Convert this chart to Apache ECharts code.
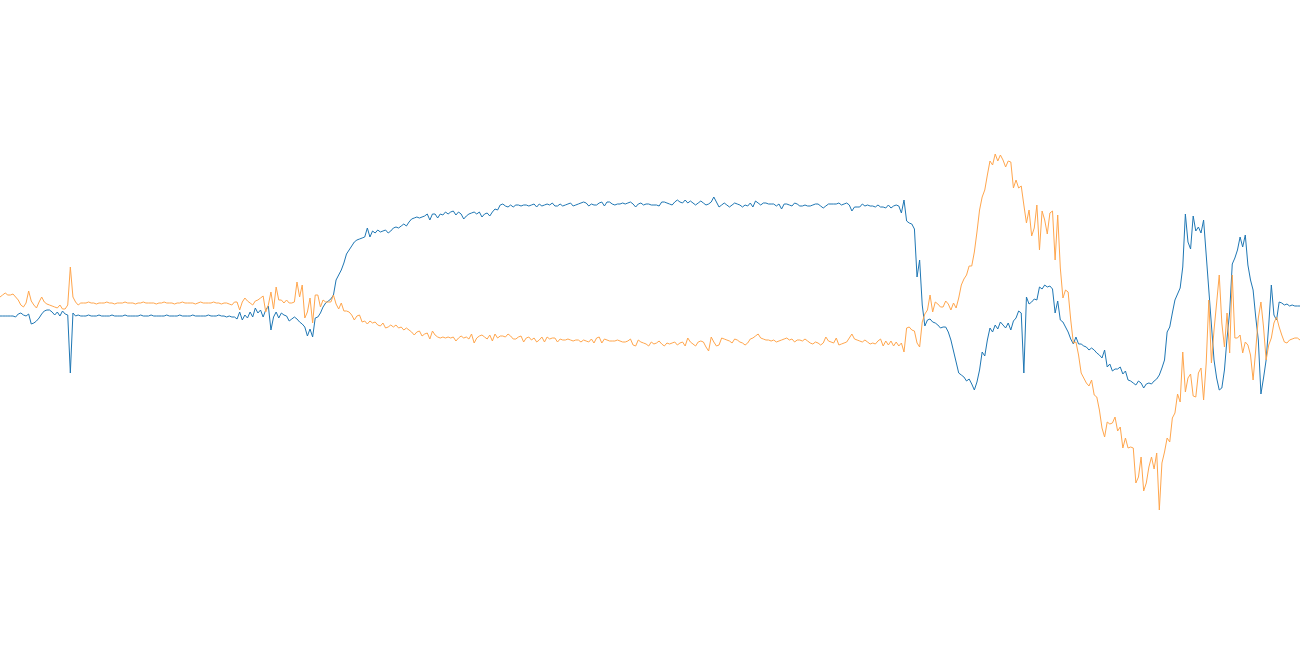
<!DOCTYPE html>
<html>
<head>
<meta charset="utf-8">
<style>html,body{margin:0;padding:0;background:#fff}#c{width:1300px;height:645px}</style>
<script src="https://cdn.jsdelivr.net/npm/echarts@6/dist/echarts.min.js"></script>
</head>
<body>
<div id="c"></div>
<script>
// Signal A (blue) values, 500 samples
const seriesA = [
4,4,4,4,4,4,3,6,7,5,4,6,-4,-3,-1,2,6,9,10,10,8,5,8,4,9,6,5,-53,7,4,5,4,
4,4,5,4,4,4,5,4,4,4, 4,5,4,4,4,4,5,4,4,4, 4,4,5,4,4,4,5,4,4,4, 4,4,5,4,4,4,4,5,4,4, 4,4,5,4,4,4,4,4,5,4, 4,4,5,4,4,3,
4,3,3,1,8,0,5,2,8,3, 12,7,10,3,10,14,-10,3,8,2, 7,5,4,-1,1,3,1,-2,-4,-7, -16,-9,-17,2,3,7,13,17,19,21,
25,40,45,50,57,66,70,74,78,80, 81,82,83,92,83,89,87,90,88,89, 90,87,89,92,93,92,94,96,94,98, 101,102,103,102,103,104,106,100,106,106, 102,106,105,108,106,108,109,105,108,106, 101,104,106,107,108,106,108,103,106,107, 104,108,111,110,115,
116,114,113,115,113,115,115,114,115,115, 114,115,116,113,116,114,115,116,115,117, 114,114,116,114,115,116,117,114,115,116, 117,118,117,114,116,115,115,117,118,114, 118,118,116,115,116,116,117,116,117,118, 116,113,116,117,115,116,116,115,115,115, 114,118,118,117,116,115,118,120,118,117, 120,117,119,117,115,117,
119,117,115,116,118,123,118,113,115,117, 115,113,115,117,116,115,113,115,114,117, 113,119,117,115,117,117,116,116,116,114, 116,111,116,116,115,114,117,116,114,114, 115,114,114,115,116,116,114,112,114,116, 116,116,116,117,115,116,117,115,109,113, 113,113,116,114,115,114,114,113,115,113, 113,112,115,112,114,115,114, 107,120,99,97,
96,91,43,60,15,-6,0,1,-2,-3, -5,-8,-7,-7,-12,-20,-31,-42,-53,-55, -57,-61,-59,-64,-70,-62,-50,-32,-36,-20, -8,-12,-5,-9,
-2,-5,-8,-3,-10,-1,2,9,7,-53, 23,16,18,21,20,33,31,35,33,34, 31,7,19,0,-2,-7,-12,-19,-24,-17, -24,-24,-26,-27,-30,-28,-30,-33,-35,
-38,-30,-47,-44,-51,-49,-49,-47,-54,-51, -60,-61,-63,-65,-61,-63,-68,-64,-63,-64, -61,-59,-55,-48,-40,-12,-7,7,20,26, 32,53,106,78,71,104,89,93,
87,100,65,30,-5,-40,-58,-70,-68,-50, -18,8,56,62,70,83,73,85,55,40, 30,3,-20,-74,-58,-40,-5,35,5,0, 18,17,15,16,14,15,14,14,14
];
// Signal B (orange) values, 500 samples
const seriesB = [
23,25,27,25,25,26,23,20,15,13,17,29,19,15,12,18,23,18,16,15,14,13,12,15,11,11,15,53,23,18,15,17,
17,17,18,17,17,16,17,17,17,18, 17,17,16,17,17,17,18,17,17,17, 16,17,17,18,17,17,17,17,16,17, 17,18,17,17,17,16,17,17,18,17, 17,17,17,16,17,18,17,17,17,17, 18,17,17,16,17,17,
16,15,18,18,10,18,22,19,17,15, 19,20,22,24,8,15,28,11,33,20, 20,17,20,17,17,18,38,23,35,2, 8,22,-3,25,25,13,20,18,18,18,
25,16,11,17,9,9,8,5,0,4, 5,-2,-1,-4,-1,-3,-2,-5,-6,-3, -8,-7,-5,-7,-5,-8,-7,-10,-8,-10, -12,-15,-12,-11,-16,-14,-13,-19,-11,-15, -17,-18,-17,-18,-17,-18,-17,-21,-18,-16, -18,-17,-19,-14,-23,-18,-16,-15,-17,-19, -15,-21,-14,-18,-16,
-16,-17,-14,-16,-19,-19,-17,-16,-22,-18, -17,-20,-18,-22,-20,-17,-22,-17,-19,-18, -18,-22,-19,-20,-20,-19,-20,-21,-20,-20, -22,-20,-21,-22,-19,-23,-18,-17,-23,-19, -20,-21,-21,-21,-20,-21,-22,-22,-21,-19, -25,-26,-20,-22,-23,-24,-26,-22,-24,-23, -21,-24,-26,-23,-24,-23,-22,-25,-23,-22, -26,-18,-22,-24,-26,-22,
-21,-22,-27,-31,-17,-22,-26,-25,-18,-19, -20,-21,-23,-19,-20,-22,-23,-25,-23,-19, -18,-16,-14,-18,-19,-20,-20,-21,-20,-22, -21,-20,-19,-18,-20,-19,-22,-20,-20,-21, -19,-21,-23,-24,-22,-23,-25,-23,-17,-21, -22,-23,-18,-25,-24,-23,-22,-18,-14,-19, -20,-21,-22,-20,-22,-24,-23,-24,-21,-19, -26,-21,-25,-21,-26,-22,-26, -23,-32,-8,-7,
-10,-11,-23,-27,-2,6,10,25,8,18, 16,13,13,19,16,10,17,12,22,35, 41,45,54,54,68,88,110,123,130,145, 159,155,166,159,
165,160,153,159,158,132,140,132,134,115, 97,110,84,92,115,70,109,100,86,107, 109,60,105,52,22,30,28,0,-23,-22, -35,-53,-58,-63,-66,-60,-75,-77,-90,
-108,-117,-102,-104,-103,-97,-111,-107,-128,-118, -128,-127,-128,-163,-157,-137,-171,-163,-147,-137, -149,-133,-190,-143,-132,-118,-122,-98,-93,-74, -82,-32,-72,-58,-54,-76,-77,-53,
-48,-80,-43,20,-43,-10,17,45,-3,-27, 7,-33,45,-18,-18,-15,-33,-22,-25,-35, -60,-30,2,18,-7,-40,-25,-18,-3,3, -7,-15,-22,-23,-20,-19,-18,-18,-20
];
const categories = seriesA.map((_, i) => String(i + 1));

const chart = echarts.init(document.getElementById('c'), null, {renderer: 'canvas'});
chart.setOption({
  animation: false,
  backgroundColor: '#ffffff',
  grid: {left: 0, right: 0, top: 0, bottom: 0, containLabel: false},
  xAxis: {type: 'category', data: categories, boundaryGap: false, show: false},
  yAxis: {type: 'value', min: -325, max: 320, show: false},
  series: [
    {name: 'A', type: 'line', data: seriesA, showSymbol: false, symbol: 'none',
     lineStyle: {color: '#1f77b4', width: 1}, itemStyle: {color: '#1f77b4'}},
    {name: 'B', type: 'line', data: seriesB, showSymbol: false, symbol: 'none',
     lineStyle: {color: '#ffa64d', width: 1}, itemStyle: {color: '#ffa64d'}}
  ]
});
</script>
</body>
</html>
